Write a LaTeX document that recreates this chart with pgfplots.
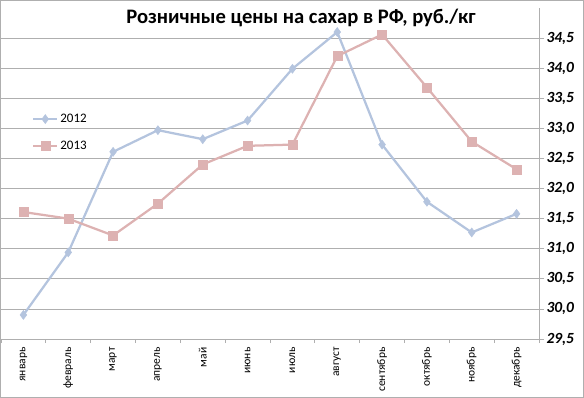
\documentclass[border=0pt]{standalone}
\usepackage{fontspec}
\setmainfont{Carlito}
\usepackage{pgfplots}
\pgfplotsset{compat=1.18}
\definecolor{c12}{RGB}{180,196,222}
\definecolor{c13}{RGB}{221,178,178}
\definecolor{gridc}{RGB}{175,175,175}
\begin{document}
\begin{tikzpicture}
\begin{axis}[
  at={(1bp,59bp)}, anchor=south west,
  scale only axis, width=538bp, height=331bp,
  xmin=-0.5, xmax=11.5, ymin=29.5, ymax=35,
  axis x line*=bottom, axis y line*=right,
  x axis line style={-, draw=gridc, line width=0.75bp},
  y axis line style={-, draw=gridc, line width=0.75bp},
  xtick={0,1,2,3,4,5,6,7,8,9,10,11},
  xticklabels={январь,февраль,март,апрель,май,июнь,июль,август,сентябрь,октябрь,ноябрь,декабрь},
  x tick label style={rotate=90, anchor=east, font=\fontsize{11.5bp}{13bp}\selectfont},
  major x tick style={draw=none},
  minor xtick={-0.5,0.5,1.5,2.5,3.5,4.5,5.5,6.5,7.5,8.5,9.5,10.5,11.5},
  minor x tick style={draw=gridc, line width=0.75bp},
  minor tick length=4bp,
  xtick align=outside,
  ytick={29.5,30,30.5,31,31.5,32,32.5,33,33.5,34,34.5},
  ytick align=outside, major tick length=5bp,
  major y tick style={draw=gridc, line width=0.75bp},
  ymajorgrids, grid style={draw=gridc, line width=0.75bp},
  y tick label style={font=\bfseries\itshape\fontsize{15.5bp}{17bp}\selectfont, xshift=-1bp,
    /pgf/number format/fixed, /pgf/number format/fixed zerofill,
    /pgf/number format/precision=1, /pgf/number format/use comma,
    /pgf/number format/assume math mode=true},
  legend style={at={(0.052,0.692)}, anchor=north west, draw=none, fill=none,
    font=\fontsize{13bp}{15bp}\selectfont, row sep=13bp},
  legend cell align=left,
  legend image code/.code={\draw[mark repeat=2,mark phase=2] plot coordinates {(0bp,0bp)(12bp,0bp)(24bp,0bp)};},
]
\addplot[c12, line width=2.25bp, mark=diamond*, mark size=4.5bp, mark options={solid, fill=c12, draw=c12, line width=0.5bp}]
  coordinates {(0,29.90) (1,30.94) (2,32.61) (3,32.97) (4,32.82) (5,33.13) (6,33.99) (7,34.60) (8,32.73) (9,31.78) (10,31.27) (11,31.58)};
\addlegendentry{2012}
\addplot[c13, line width=2.25bp, mark=square*, mark size=4.5bp, mark options={solid, fill=c13, draw=c13, line width=0.5bp}]
  coordinates {(0,31.61) (1,31.50) (2,31.22) (3,31.75) (4,32.40) (5,32.71) (6,32.73) (7,34.20) (8,34.56) (9,33.68) (10,32.78) (11,32.32)};
\addlegendentry{2013}
\end{axis}
\node[font=\bfseries\fontsize{20.6bp}{24bp}\selectfont] at (301bp,380bp) {Розничные цены на сахар в РФ, руб./кг};
\draw[gridc, line width=0.75bp] (0.5bp,0.5bp) rectangle (583.5bp,397.5bp);
\pgfresetboundingbox
\useasboundingbox (0,0) rectangle (584bp,398bp);
\end{tikzpicture}
\end{document}
